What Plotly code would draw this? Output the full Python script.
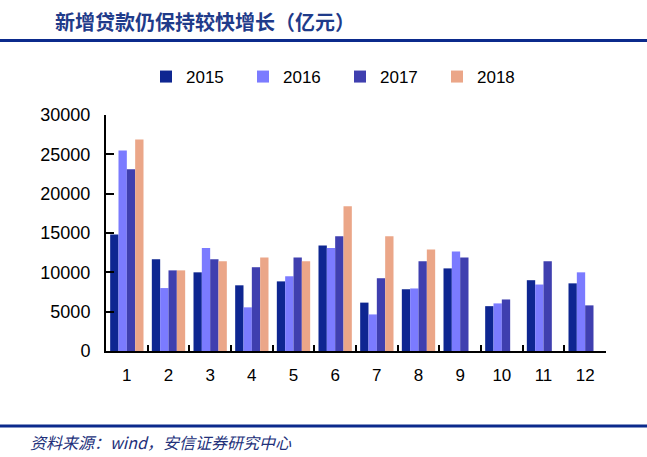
import plotly.graph_objects as go

months = ["1", "2", "3", "4", "5", "6", "7", "8", "9", "10", "11", "12"]
years = ["2015", "2016", "2017", "2018"]
loans_2015 = [14800, 11650, 10000, 8350, 8850, 13400, 6150, 7850, 10500, 5700, 9000, 8600]
loans_2016 = [25500, 8000, 13100, 5550, 9500, 13100, 4650, 7950, 12650, 6050, 8450, 10000]
loans_2017 = [23100, 10250, 11650, 10650, 11900, 14600, 9250, 11400, 11900, 6550, 11400, 5800]
loans_2018 = [26900, 10250, 11400, 11900, 11400, 18400, 14600, 12900, None, None, None, None]
series = [loans_2015, loans_2016, loans_2017, loans_2018]
colors = ["#0E2691", "#7B7BFF", "#3F3FAF", "#EBA688"]

y_ticks = [0, 5000, 10000, 15000, 20000, 25000, 30000]

W, H = 647, 457
L, R, T, B = 106, 41, 115, 106
PW, PH = W - L - R, H - T - B


def px(x):
    return (x - L) / PW


def py(y):
    return (H - B - y) / PH


fig = go.Figure()
for name, vals, col in zip(years, series, colors):
    fig.add_trace(go.Bar(x=months, y=vals, name=name, marker=dict(color=col, line=dict(width=0))))

fig.update_layout(
    width=W, height=H,
    margin=dict(l=L, r=R, t=T, b=B, pad=0),
    paper_bgcolor="white", plot_bgcolor="white",
    barmode="group", bargap=0.2, bargroupgap=0,
    font=dict(family="Liberation Sans, Arial, sans-serif", color="black", size=17),
    showlegend=True,
    legend=dict(orientation="h", x=px(146), xanchor="left", y=py(77), yanchor="middle",
                font=dict(size=17), entrywidth=52, entrywidthmode="pixels",
                bgcolor="rgba(0,0,0,0)", borderwidth=0, traceorder="normal"),
    xaxis=dict(type="category", range=[-0.5, 11.5], showline=True, linecolor="black", linewidth=2,
               ticks="inside", tickson="boundaries", ticklen=6, tickwidth=2, tickcolor="black",
               showgrid=False, zeroline=False, ticklabelstandoff=8),
    yaxis=dict(range=[0, 30000], tickvals=y_ticks, ticktext=[str(v) for v in y_ticks],
               showline=True, linecolor="black", linewidth=2, tickfont=dict(size=18),
               ticks="inside", ticklen=8, tickwidth=2, tickcolor="black",
               showgrid=False, zeroline=False, ticklabelstandoff=10),
    shapes=[
        dict(type="line", xref="paper", yref="paper", x0=px(0), x1=px(W), y0=py(40.5), y1=py(40.5),
             line=dict(color="#0B2A8C", width=3)),
        dict(type="line", xref="paper", yref="paper", x0=px(0), x1=px(W), y0=py(426), y1=py(426),
             line=dict(color="#0B2A8C", width=3)),
    ],
    annotations=[
        dict(text="<b>新增贷款仍保持较快增长（亿元）</b>", xref="paper", yref="paper",
             x=px(53), y=py(22), xanchor="left", yanchor="middle", showarrow=False,
             font=dict(family="Noto Sans CJK SC", size=20, color="#1F3B8A")),
        dict(text="<i>资料来源：wind，安信证券研究中心</i>", xref="paper", yref="paper",
             x=px(28), y=py(442), xanchor="left", yanchor="middle", showarrow=False,
             font=dict(family="Noto Sans CJK SC", size=16, color="#22307A")),
    ],
)

fig.write_html("out.html", config={"displayModeBar": False},
               post_script="document.body.style.margin='0';document.body.style.overflow='hidden';")
